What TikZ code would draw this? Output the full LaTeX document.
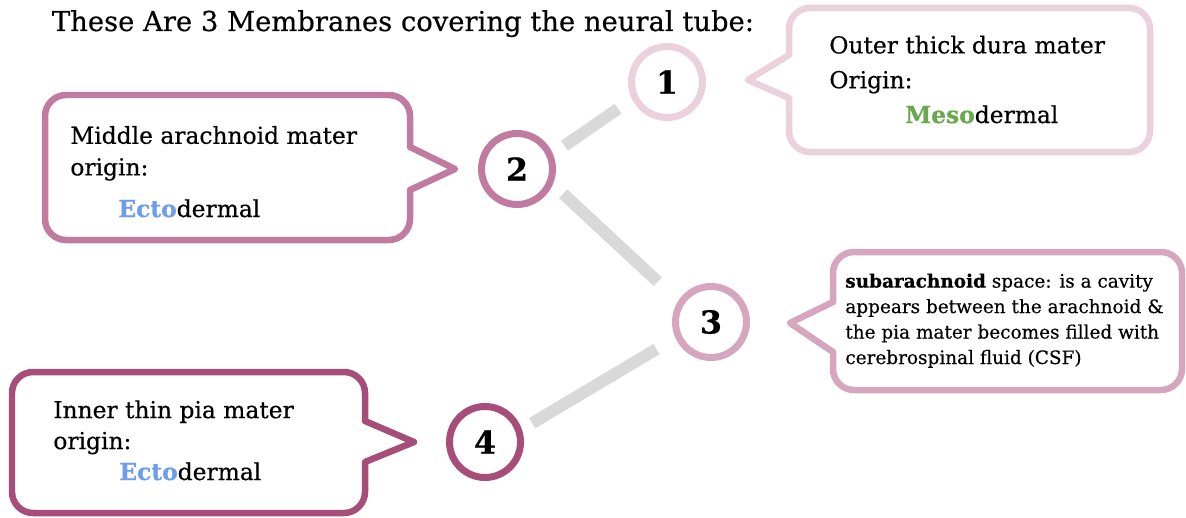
\documentclass[tikz,border=0pt]{standalone}
\usepackage{fontspec}
\setmainfont{DejaVu Serif}[UprightFeatures={FakeBold=0.4}, BoldFeatures={FakeBold=0.6}]
\usepackage{tikz}
\usetikzlibrary{positioning}

\definecolor{duraPink}{HTML}{EAD1DC}
\definecolor{arachMauve}{HTML}{C27BA0}
\definecolor{spacePink}{HTML}{D5A6BD}
\definecolor{piaPlum}{HTML}{A64D79}
\definecolor{mesoGreen}{HTML}{6AA84F}
\definecolor{ectoBlue}{HTML}{6D9EEB}
\definecolor{linkGray}{HTML}{D9D9D9}

\begin{document}
\begin{tikzpicture}[x=0.02cm, y=-0.02cm,
    num/.style={circle, line width=0.14cm, minimum size=1.42cm, inner sep=0pt, fill=white, font=\bfseries\fontsize{18}{20}\selectfont},
    bubble/.style={line width=0.13cm, fill=white, rounded corners=12pt},
    pointer/.style={line width=0.13cm, line cap=round, line join=round},
    info/.style={anchor=base west, align=left, inner sep=0pt},
    link/.style={draw=linkGray, line width=0.24cm}]

  \useasboundingbox (0,0) rectangle (1186,517);

  \node[anchor=base, font=\fontsize{15.6}{18}\selectfont] (title) at (403,31) {These Are 3 Membranes covering the neural tube:};

  % the four layers
  \node[num, draw=duraPink] (n1) at (667,82) {1};
  \node[num, draw=arachMauve] (n2) at (517,169) {2};
  \node[num, draw=spacePink] (n3) at (711,322) {3};
  \node[num, draw=piaPlum] (n4) at (485,442) {4};

  \draw[link, shorten <=0.28cm, shorten >=0.34cm] (n2.23) -- (n1.206);
  \draw[link, shorten <=0.28cm, shorten >=0.56cm] (n2.-23) -- (n3.147);
  \draw[link, shorten <=0.44cm, shorten >=0.24cm] (n3.204) -- (n4.19);

  % callouts
  \draw[bubble, draw=duraPink] (789,8) rectangle (1150,152);
  \fill[white] (793,55) -- (748,80) -- (793,98) -- cycle;
  \draw[pointer, draw=duraPink] (789,55) -- (748,80) -- (789,98);

  \draw[bubble, draw=arachMauve] (45,95) rectangle (410,240);
  \fill[white] (406,147) -- (455,169) -- (406,190) -- cycle;
  \draw[pointer, draw=arachMauve] (410,147) -- (455,169) -- (410,190);

  \draw[bubble, draw=spacePink] (833,252) rectangle (1182,390);
  \fill[white] (837,302) -- (790,323) -- (837,352) -- cycle;
  \draw[pointer, draw=spacePink] (833,302) -- (790,323) -- (833,352);

  \draw[bubble, draw=piaPlum] (12,372) rectangle (365,513);
  \fill[white] (361,421) -- (414,442) -- (361,462) -- cycle;
  \draw[pointer, draw=piaPlum] (365,421) -- (414,442) -- (365,462);

  \node[info, font=\fontsize{13.3}{19.8}\selectfont] (t1) at (829,123) {Outer thick dura mater\\Origin:\\\hspace*{1.52cm}\textbf{\textcolor{mesoGreen}{Meso}}dermal};
  \node[info, font=\fontsize{13.3}{18}\selectfont] (t2) at (70,217) {Middle arachnoid mater\\origin:\\[0.2cm]\hspace*{0.96cm}\textbf{\textcolor{ectoBlue}{Ecto}}dermal};
  \node[info, font=\fontsize{10.5}{14.5}\selectfont] (t3) at (845,364) {\textbf{subarachnoid} space: is a cavity\\appears between the arachnoid \&\\the pia mater becomes filled with\\cerebrospinal fluid (CSF)};
  \node[info, font=\fontsize{13.3}{17.6}\selectfont] (t4) at (53,480) {Inner thin pia mater\\origin:\\\hspace*{1.32cm}\textbf{\textcolor{ectoBlue}{Ecto}}dermal};
\end{tikzpicture}
\end{document}
